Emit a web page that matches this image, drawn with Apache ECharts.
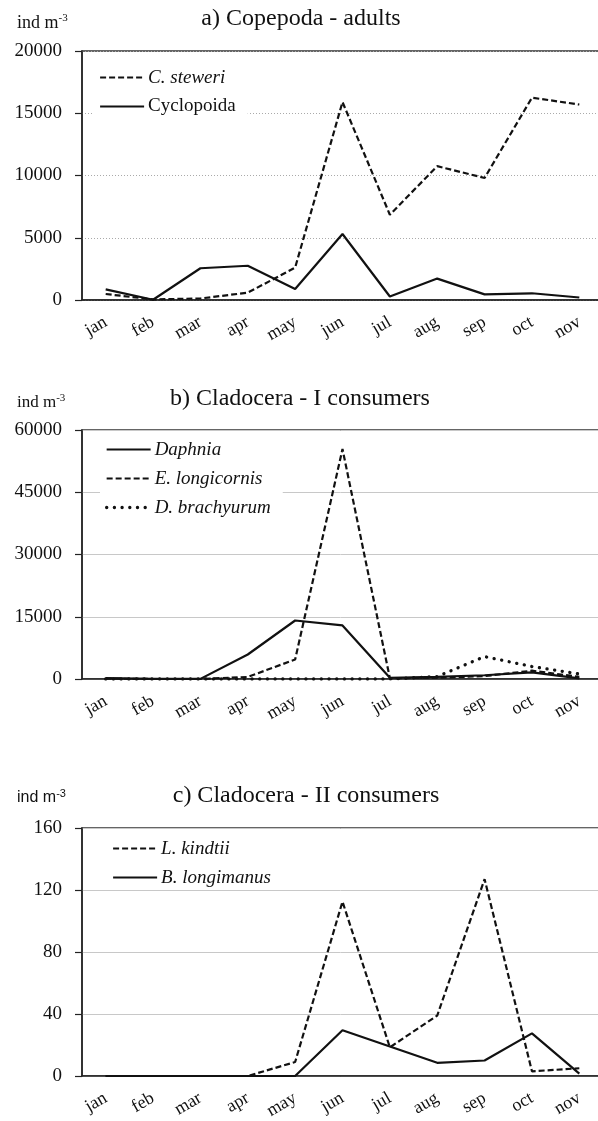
<!DOCTYPE html>
<html>
<head>
<meta charset="utf-8">
<script src="https://cdn.jsdelivr.net/npm/echarts@6/dist/echarts.min.js"></script>
<style>
  html, body { margin: 0; padding: 0; background: #fff; overflow: hidden; }
  #chart { width: 598px; height: 1121px; }
</style>
</head>
<body>
<div id="chart"></div>
<script>
// months on the x axis (same for all three panels)
var months = ['jan', 'feb', 'mar', 'apr', 'may', 'jun', 'jul', 'aug', 'sep', 'oct', 'nov'];

// a) Copepoda - adults
var cSteweri = [480, 50, 120, 590, 2600, 15900, 6850, 10750, 9800, 16250, 15700];
var cyclopoida = [850, 20, 2550, 2750, 880, 5300, 280, 1720, 450, 540, 200];

// b) Cladocera - I consumers
var daphnia = [200, 30, 30, 5900, 14100, 12900, 300, 500, 900, 1600, 150];
var eLongicornis = [100, 0, 0, 500, 4700, 55400, 200, 300, 700, 2000, 500];
var dBrachyurum = [0, 0, 0, 0, 0, 0, 0, 600, 5400, 3000, 1200];

// c) Cladocera - II consumers
var lKindtii = [0, 0, 0, 0, 9, 112.5, 18.5, 39, 127, 3, 5];
var bLongimanus = [0, 0, 0, 0, 0, 29.5, 19, 8.5, 10, 27.5, 1.5];

var serif = "'Liberation Serif', 'Times New Roman', serif";
var sans = "'Liberation Sans', Arial, sans-serif";
var ink = '#111';

var chart = echarts.init(document.getElementById('chart'));

var grids = [
  { top: 51, height: 249 },
  { top: 430, height: 249 },
  { top: 828, height: 248 }
];

function xAx(i) {
  return {
    type: 'category',
    gridIndex: i,
    data: months,
    boundaryGap: true,
    axisLine: { lineStyle: { color: '#222', width: 1.5 } },
    axisTick: { length: 6, lineStyle: { color: '#222', width: 1.2 } },
    axisLabel: { rotate: 30, margin: 21, color: ink, fontFamily: serif, fontSize: 18 },
    splitLine: { show: false }
  };
}

function yAx(i, max, step, dotted) {
  return {
    type: 'value',
    gridIndex: i,
    min: 0,
    max: max,
    interval: step,
    axisLine: { show: true, lineStyle: { color: '#222', width: 1.5 } },
    axisTick: { show: true, length: 7, lineStyle: { color: '#222', width: 1.2 } },
    axisLabel: {
      margin: 20, color: ink, fontFamily: serif, fontSize: 19,
      formatter: function (v) { return String(v); }
    },
    splitLine: {
      show: true,
      lineStyle: dotted ? { color: '#aaa', type: [1, 2], width: 1 } : { color: '#c8c8c8', width: 1 }
    }
  };
}

var dashed = { color: ink, width: 2.2, type: [6, 3] };
var solid = { color: ink, width: 2.2, type: 'solid' };
var dots = { color: ink, width: 3.3, type: [0.1, 7.6], cap: 'round' };

function line(name, data, i, style) {
  return {
    name: name,
    type: 'line',
    xAxisIndex: i,
    yAxisIndex: i,
    data: data,
    symbol: 'none',
    color: ink,
    lineStyle: style,
    animation: false
  };
}

function item(name, style, italic) {
  return {
    name: name,
    lineStyle: style,
    textStyle: { fontStyle: italic ? 'italic' : 'normal' }
  };
}

function legend(names, left, top) {
  return {
    orient: 'vertical',
    left: left,
    top: top,
    padding: [3, 12, 3, 5],
    backgroundColor: '#fff',
    itemWidth: 44,
    itemHeight: 19,
    itemGap: 10,
    selectedMode: false,
    itemStyle: { opacity: 0 },
    textStyle: { color: ink, fontFamily: serif, fontSize: 19, padding: [0, 0, 0, -1] },
    data: names
  };
}

function unitLabel(top, family, size) {
  return {
    text: '{t|ind m}{s|-3}',
    left: 17,
    top: top,
    padding: 0,
    textStyle: {
      fontWeight: 'normal',
      rich: {
        t: { fontFamily: family, fontSize: size, fontWeight: 'normal', color: ink, lineHeight: 20 },
        s: { fontFamily: family, fontSize: 11, fontWeight: 'normal', color: ink, verticalAlign: 'top', lineHeight: 20 }
      }
    }
  };
}

function heading(text, center, top) {
  return {
    text: text,
    left: center,
    textAlign: 'center',
    top: top,
    padding: 0,
    textStyle: { fontFamily: serif, fontSize: 24, fontWeight: 'normal', color: ink }
  };
}

chart.setOption({
  backgroundColor: '#fff',
  animation: false,
  title: [
    heading('a) Copepoda - adults', 301, 7),
    heading('b) Cladocera - I consumers', 300, 387),
    heading('c) Cladocera - II consumers', 306, 784),
    unitLabel(13, serif, 18),
    unitLabel(393, serif, 17),
    unitLabel(788, sans, 16)
  ],
  grid: grids.map(function (g) {
    return {
      left: 82, width: 521, top: g.top, height: g.height,
      containLabel: false, outerBoundsMode: 'none',
      show: true, borderColor: '#333', borderWidth: 1.5, backgroundColor: 'transparent'
    };
  }),
  xAxis: [xAx(0), xAx(1), xAx(2)],
  yAxis: [yAx(0, 20000, 5000, true), yAx(1, 60000, 15000, false), yAx(2, 160, 40, false)],
  legend: [
    legend([
      item('C. steweri', dashed, true),
      item('Cyclopoida', solid, false)
    ], 94, 65),
    legend([
      item('Daphnia', solid, true),
      item('E. longicornis', dashed, true),
      item('D. brachyurum', dots, true)
    ], 100, 437),
    legend([
      item('L. kindtii', dashed, true),
      item('B. longimanus', solid, true)
    ], 107, 836)
  ],
  series: [
    line('C. steweri', cSteweri, 0, dashed),
    line('Cyclopoida', cyclopoida, 0, solid),
    line('Daphnia', daphnia, 1, solid),
    line('E. longicornis', eLongicornis, 1, dashed),
    line('D. brachyurum', dBrachyurum, 1, dots),
    line('L. kindtii', lKindtii, 2, dashed),
    line('B. longimanus', bLongimanus, 2, solid)
  ]
});
</script>
</body>
</html>
